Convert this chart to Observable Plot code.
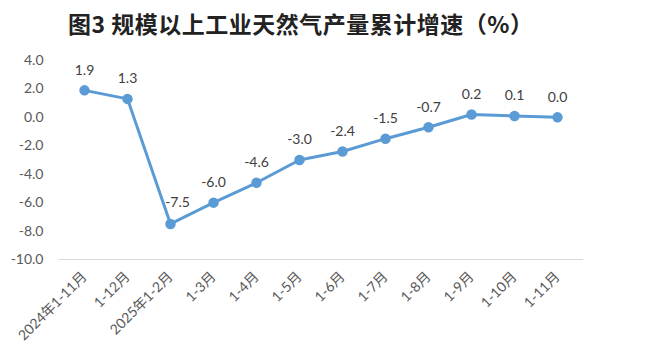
<!DOCTYPE html>
<html>
<head>
<meta charset="utf-8">
<script src="https://cdn.jsdelivr.net/npm/d3@7"></script>
<script src="https://cdn.jsdelivr.net/npm/@observablehq/plot@0.6"></script>
<style>
  html, body { margin: 0; padding: 0; background: #fff; }
  #wrap { width: 670px; height: 364px; position: relative; overflow: hidden; }
  #title { height: 40px; box-sizing: border-box; padding-left: 68px; padding-top: 8px;
    font-family: "Noto Sans CJK SC", sans-serif; font-weight: 700; font-size: 23px;
    letter-spacing: 0.5px; line-height: 30px; color: #222; white-space: nowrap; }
  svg { display: block; }
</style>
</head>
<body>
<div id="wrap">
  <div id="title">图3 规模以上工业天然气产量累计增速（%）</div>
  <div id="chart"></div>
</div>
<script>
const months = ["2024年1-11月", "1-12月", "2025年1-2月", "1-3月", "1-4月", "1-5月", "1-6月", "1-7月", "1-8月", "1-9月", "1-10月", "1-11月"];
const growth = [1.9, 1.3, -7.5, -6.0, -4.6, -3.0, -2.4, -1.5, -0.7, 0.2, 0.1, 0.0];
const yTicks = [4, 2, 0, -2, -4, -6, -8, -10];
const yBase = -10;

const data = months.map((m, i) => ({month: m, value: growth[i], idx: i}));
const blue = "#5b9bd5";
const font = "Lato, 'Noto Sans CJK SC', sans-serif";

const chart = Plot.plot({
  width: 670,
  height: 324,
  marginLeft: 58,
  marginRight: 87,
  marginTop: 20,
  marginBottom: 105,
  style: {fontFamily: font, fontSize: "14px", color: "#595959", background: "#fff"},
  x: {type: "point", domain: months, padding: 0.5},
  y: {domain: [yBase, 4]},
  marks: [
    Plot.ruleY([yBase], {stroke: "#d9d9d9", strokeWidth: 1.2}),
    Plot.axisY({ticks: yTicks, tickSize: 0, tickPadding: 15, tickFormat: d => d.toFixed(1),
      fontSize: 14, fill: "#595959", label: null}),
    Plot.axisX({tickSize: 0, tickPadding: 15, tickRotate: -45, fontSize: 14, fill: "#595959", label: null}),
    Plot.line(data, {x: "month", y: "value", stroke: blue, strokeWidth: 3}),
    Plot.dot(data, {x: "month", y: "value", r: 4.5, fill: blue, stroke: blue}),
    Plot.text(data.filter(d => d.idx !== 2), {x: "month", y: "value", text: d => d.value.toFixed(1),
      dy: -20, fontSize: 14, fill: "#404040"}),
    Plot.text(data.filter(d => d.idx === 2), {x: "month", y: "value", text: d => d.value.toFixed(1),
      dy: -21, dx: 7, fontSize: 14, fill: "#404040"})
  ]
});
document.getElementById("chart").appendChild(chart);
</script>
</body>
</html>
